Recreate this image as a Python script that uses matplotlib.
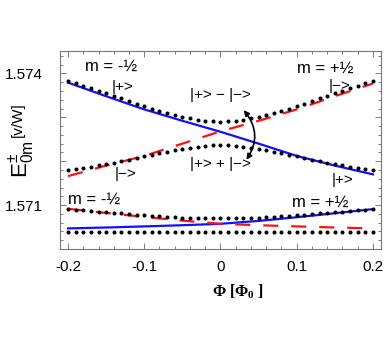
import numpy as np
import matplotlib
matplotlib.use("Agg")
import matplotlib.pyplot as plt
from matplotlib.ticker import FixedLocator, MultipleLocator, FuncFormatter

plt.rcParams['font.family'] = ['Liberation Sans', 'DejaVu Sans']
plt.rcParams['mathtext.default'] = 'regular'
plt.rcParams['axes.unicode_minus'] = False

# flux grid of the dotted (eigenvalue) curves
phi = np.linspace(-0.2, 0.2, 41)

# upper pair, adiabatic levels (dots)
upper_plus = [1.573830, 1.573775, 1.573720, 1.573665, 1.573608, 1.573550, 1.573492,
              1.573432, 1.573371, 1.573310, 1.573250, 1.573192, 1.573140, 1.573093,
              1.573050, 1.573010, 1.572974, 1.572944, 1.572920, 1.572905, 1.572900,
              1.572905, 1.572920, 1.572944, 1.572974, 1.573010, 1.573050, 1.573093,
              1.573140, 1.573192, 1.573250, 1.573310, 1.573371, 1.573432, 1.573492,
              1.573550, 1.573608, 1.573665, 1.573720, 1.573775, 1.573830]
upper_minus = [1.571790, 1.571818, 1.571848, 1.571878, 1.571908, 1.571938, 1.571970,
               1.572003, 1.572037, 1.572072, 1.572108, 1.572144, 1.572180, 1.572215,
               1.572249, 1.572281, 1.572310, 1.572334, 1.572353, 1.572366, 1.572370,
               1.572366, 1.572353, 1.572334, 1.572310, 1.572281, 1.572249, 1.572215,
               1.572180, 1.572144, 1.572108, 1.572072, 1.572037, 1.572003, 1.571970,
               1.571938, 1.571908, 1.571878, 1.571848, 1.571818, 1.571790]
# lower pair, adiabatic levels (dots)
lower_plus = [1.570909, 1.570895, 1.570879, 1.570863, 1.570850, 1.570836, 1.570822,
              1.570809, 1.570795, 1.570781, 1.570768, 1.570756, 1.570745, 1.570733,
              1.570724, 1.570715, 1.570708, 1.570704, 1.570699, 1.570697, 1.570697,
              1.570697, 1.570699, 1.570704, 1.570708, 1.570715, 1.570724, 1.570733,
              1.570745, 1.570756, 1.570768, 1.570781, 1.570795, 1.570809, 1.570822,
              1.570836, 1.570850, 1.570863, 1.570879, 1.570895, 1.570909]
lower_minus = [1.570378, 1.570378, 1.570378, 1.570378, 1.570378, 1.570378, 1.570378,
               1.570378, 1.570378, 1.570378, 1.570378, 1.570378, 1.570378, 1.570378,
               1.570378, 1.570378, 1.570378, 1.570378, 1.570378, 1.570378, 1.570378,
               1.570378, 1.570378, 1.570378, 1.570378, 1.570378, 1.570378, 1.570378,
               1.570378, 1.570378, 1.570378, 1.570378, 1.570378, 1.570378, 1.570378,
               1.570378, 1.570378, 1.570378, 1.570378, 1.570378, 1.570378]

# diabatic levels (lines)
phi_line = [-0.2, -0.15, -0.1, -0.05, 0.0, 0.05, 0.1, 0.15, 0.2]
blue_upper = [1.57379, 1.57348, 1.57318, 1.57292, 1.57267, 1.57240, 1.57212, 1.57190, 1.57170]
red_upper = [1.57166, 1.57190, 1.57212, 1.57240, 1.57268, 1.57292, 1.57318, 1.57348, 1.57377]
blue_lower = [1.570469, 1.570490, 1.570515, 1.570542, 1.570574, 1.570640, 1.570724, 1.570815, 1.570909]
red_lower = [1.570916, 1.570822, 1.570731, 1.570647, 1.570574, 1.570542, 1.570515, 1.570490, 1.570469]

fig = plt.figure(figsize=(3.84, 3.42), dpi=100)
ax = fig.add_axes([0.15625, 0.2719, 0.8359, 0.5790])

for yb, yr in [(blue_upper, red_upper), (blue_lower, red_lower)]:
    ax.plot(phi_line, yb, color='#1010ff', lw=1.6, zorder=2)
    ax.plot(phi_line, yr, color='#ff1010', lw=1.6, dashes=(6.8, 5.8), zorder=2)

for ys in [upper_plus, upper_minus, lower_plus, lower_minus]:
    ax.plot(phi, ys, ls='none', marker='o', ms=1.9, color='black', zorder=3)

ax.set_xlim(-0.2105, 0.2105)
ax.set_ylim(1.5700, 1.57451)

ax.xaxis.set_major_locator(FixedLocator([-0.2, -0.1, 0.0, 0.1, 0.2]))
ax.xaxis.set_minor_locator(MultipleLocator(0.02))
ax.set_xticklabels(['-0.2', '-0.1', '0', '0.1', '0.2'])
ax.yaxis.set_major_locator(FixedLocator([1.571, 1.572, 1.573, 1.574]))
ax.yaxis.set_minor_locator(MultipleLocator(0.0002))
ax.yaxis.set_major_formatter(FuncFormatter(
    lambda v, p: '%.3f' % v if round(v, 4) in (1.571, 1.574) else ''))

ax.tick_params(which='both', direction='in', top=True, right=True,
               color='#666666', width=0.6, labelsize=11)
ax.tick_params(which='major', length=4)
ax.tick_params(which='minor', length=2)
ax.tick_params(axis='x', pad=8)
ax.tick_params(axis='y', pad=12)
for s in ax.spines.values():
    s.set_color('#777777')
    s.set_linewidth(0.8)

# labels on the curves
ax.text(-0.1772, 1.574151, 'm = -½', fontsize=12, va='center')
ax.text(0.100, 1.574121, 'm = +½', fontsize=12, va='center')
ax.text(-0.2005, 1.571137, 'm = -½', fontsize=12, va='center')
ax.text(0.0934, 1.571069, 'm = +½', fontsize=12, va='center')
ax.text(-0.1434, 1.573695, '|+>', fontsize=11, va='center')
ax.text(-0.1391, 1.571706, '|−>', fontsize=11, va='center')
ax.text(0.1416, 1.573718, '|−>', fontsize=11, va='center')
ax.text(0.1460, 1.571570, '|+>', fontsize=11, va='center')
ax.text(0.0, 1.573506, '|+> − |−>', fontsize=11, ha='center', va='center')
ax.text(0.0, 1.571934, '|+> + |−>', fontsize=11, ha='center', va='center')

ax.annotate('', xy=(0.028, 1.573210), xytext=(0.032, 1.571980),
            arrowprops=dict(arrowstyle='<|-|>', connectionstyle='arc3,rad=0.4',
                            color='black', lw=1.2, mutation_scale=8))

# axis titles
fig.text(22 / 384, 1 - 178 / 342, r'E$^{\pm}_{0m}$', rotation=90,
         ha='center', va='bottom', fontsize=16)
fig.text(18 / 384, 1 - 137 / 342, '[v/W]', rotation=90,
         ha='center', va='bottom', fontsize=11)
fig.text(238 / 384, 1 - 292 / 342, 'Φ [Φ$_0$ ]', ha='center', va='center',
         family='Liberation Serif', fontsize=11.5, weight='bold')

fig.savefig('out.png', dpi=100)
